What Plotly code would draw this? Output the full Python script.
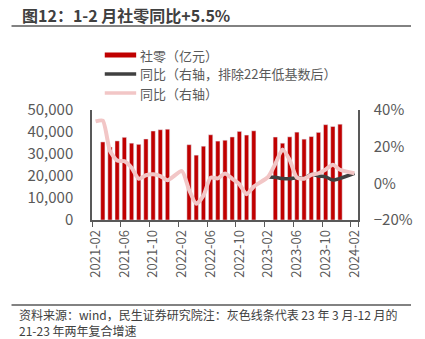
import plotly.graph_objects as go

# ---------------- data ----------------
months = [f"{y}-{m:02d}" for y in (2021, 2022, 2023, 2024) for m in range(1, 13)]
months = months[months.index("2021-02"):months.index("2024-02") + 1]

retail_2021 = [35484, 33153, 35945, 37586, 34925, 34395, 36833, 40454, 41043, 41269]
retail_2022 = [34233, 29483, 33547, 38742, 35870, 36258, 37745, 40271, 38615, 40542]
retail_2023 = [37715, 34910, 37803, 39951, 36761, 37933, 39826, 43333, 42505, 43550]

yoy_2021 = [33.8, 34.2, 17.7, 12.4, 12.1, 8.5, 2.5, 4.4, 4.9, 3.9, 1.7]   # 2021-02 .. 2021-12
yoy_2022 = [6.7, -3.5, -11.1, -6.7, 3.1, 2.7, 5.4, 2.5, -0.5, -5.9, -1.8]  # 2022-02 .. 2022-12
yoy_2023 = [3.5, 10.6, 18.4, 12.7, 3.1, 2.5, 4.6, 5.5, 7.6, 10.1, 7.4]     # 2023-02 .. 2023-12
yoy_2024 = [5.5]                                                          # 2024-02

cagr_2023 = [3.5, 3.3, 2.6, 2.5, 3.1, 2.6, 5.0, 4.0, 3.5, 1.8, 2.7]        # 2023-02 .. 2023-12
cagr_2024 = [5.5]

tick_labels = months[::4]

bars = []
yoy = []
cagr = []
for mth in months:
    y, m = int(mth[:4]), int(mth[5:])
    if 3 <= m <= 12:
        bars.append({2021: retail_2021, 2022: retail_2022, 2023: retail_2023}[y][m - 3])
    else:
        bars.append(None)
    if m == 1:
        yoy.append(None); cagr.append(None); continue
    if y == 2024:
        yoy.append(yoy_2024[0]); cagr.append(cagr_2024[0]); continue
    yoy.append({2021: yoy_2021, 2022: yoy_2022, 2023: yoy_2023}[y][m - 2])
    cagr.append(cagr_2023[m - 2] if y == 2023 else None)

# ---------------- layout helpers ----------------
W, H = 425, 339
L, R, T, B = 92, 363, 110, 220

def px(x):
    return (x - L) / (R - L)

def py(y):
    return (B - y) / (B - T)

FONT = "Noto Sans CJK SC"
GREY = "#595959"
RED = "#C00000"
DARK = "#404040"
PINK = "#F2C6C6"

fig = go.Figure()
fig.add_trace(go.Bar(x=months, y=bars, marker_color=RED, width=0.6,
                     name="社零（亿元）", showlegend=False))
fig.add_trace(go.Scatter(x=months, y=cagr, yaxis="y2", mode="lines", connectgaps=True,
                         line=dict(color=DARK, width=3.5, shape="spline", smoothing=0.6),
                         name="同比（右轴，排除22年低基数后）", showlegend=False))
fig.add_trace(go.Scatter(x=months, y=yoy, yaxis="y2", mode="lines", connectgaps=True,
                         line=dict(color=PINK, width=4, shape="spline", smoothing=0.6),
                         name="同比（右轴）", showlegend=False))

fig.update_layout(
    width=W, height=H,
    margin=dict(l=L, r=W - R, t=T, b=H - B),
    paper_bgcolor="white", plot_bgcolor="white",
    font=dict(family=FONT, color=GREY),
    xaxis=dict(type="category", categoryorder="array", categoryarray=months,
               range=[-0.5, len(months) - 0.5],
               tickvals=tick_labels, ticktext=tick_labels, tickangle=-90,
               tickson="boundaries", ticks="outside", ticklen=5, tickcolor=GREY,
               showline=True, linecolor=GREY, linewidth=1.5, showgrid=False,
               ticklabelstandoff=3,
               tickfont=dict(size=13, color=GREY, family=FONT)),
    yaxis=dict(range=[0, 50000], dtick=10000, tickformat=",d", showgrid=False,
               showline=True, linecolor=GREY, linewidth=1.5, ticks="",
               ticklabelstandoff=14,
               tickfont=dict(size=15, color=GREY, family=FONT), zeroline=False),
    yaxis2=dict(range=[-20, 40], dtick=20, ticksuffix="%", overlaying="y", side="right",
                showgrid=False, showline=True, linecolor=GREY, linewidth=1.5, ticks="",
                ticklabelstandoff=11,
                tickfont=dict(size=15, color=GREY, family=FONT), zeroline=False),
)

shapes = []
annotations = []
annotations.append(dict(text="<b>图12：1-2 月社零同比+5.5%</b>", x=px(19), y=py(15),
                        xref="paper", yref="paper", xanchor="left", yanchor="middle",
                        showarrow=False, font=dict(size=16, color="#404040", family=FONT)))
shapes.append(dict(type="line", xref="paper", yref="paper", x0=px(10), x1=px(417),
                   y0=py(26), y1=py(26), line=dict(color=GREY, width=1.5)))
shapes.append(dict(type="line", xref="paper", yref="paper", x0=px(10), x1=px(417),
                   y0=py(305), y1=py(305), line=dict(color=GREY, width=1.5)))
legend_rows = [("社零（亿元）", "bar", RED, 55), ("同比（右轴，排除22年低基数后）", "line", DARK, 74),
               ("同比（右轴）", "line", PINK, 93)]
for text, kind, col, yy in legend_rows:
    if kind == "bar":
        shapes.append(dict(type="rect", xref="paper", yref="paper", x0=px(105), x1=px(137),
                           y0=py(yy + 2.5), y1=py(yy - 2.5), fillcolor=col, line=dict(width=0)))
    else:
        shapes.append(dict(type="line", xref="paper", yref="paper", x0=px(105), x1=px(137),
                           y0=py(yy), y1=py(yy), line=dict(color=col, width=3.5)))
    annotations.append(dict(text=text, x=px(139), y=py(yy), xref="paper", yref="paper",
                            xanchor="left", yanchor="middle", showarrow=False,
                            font=dict(size=13, color=GREY, family=FONT)))
source_lines = ["资料来源：wind，民生证券研究院注：灰色线条代表 23 年 3 月-12 月的",
                "21-23 年两年复合增速"]
for i, line in enumerate(source_lines):
    annotations.append(dict(text=line, x=px(17), y=py(314 + 16 * i), xref="paper", yref="paper",
                            xanchor="left", yanchor="middle", align="left", showarrow=False,
                            borderpad=0,
                            font=dict(size=12, color="#404040", family=FONT)))

fig.update_layout(shapes=shapes, annotations=annotations)
fig.write_html("out.html")
